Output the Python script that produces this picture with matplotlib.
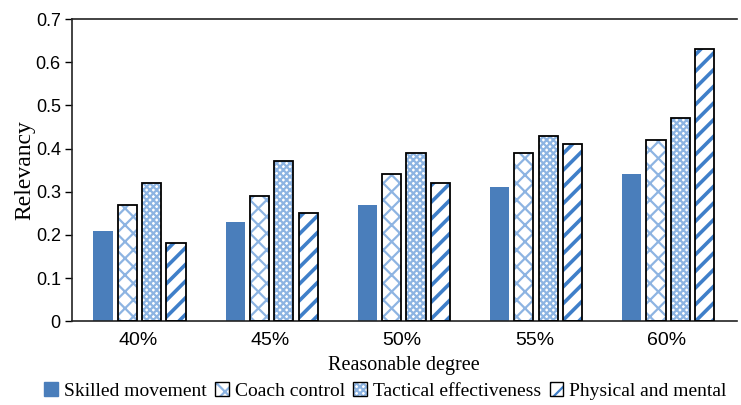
import matplotlib
matplotlib.use("Agg")
import matplotlib.pyplot as plt
import numpy as np
from matplotlib.patches import Patch

plt.rcParams['font.family'] = ['Liberation Serif', 'DejaVu Serif']
plt.rcParams['hatch.linewidth'] = 1.6

categories = ["40%", "45%", "50%", "55%", "60%"]
series_names = ["Skilled movement", "Coach control", "Tactical effectiveness", "Physical and mental"]
skilled = [0.21, 0.23, 0.27, 0.31, 0.34]
coach = [0.27, 0.29, 0.34, 0.39, 0.42]
tactical = [0.32, 0.37, 0.39, 0.43, 0.47]
physical = [0.18, 0.25, 0.32, 0.41, 0.63]
yticks = [0, 0.1, 0.2, 0.3, 0.4, 0.5, 0.6, 0.7]

blue = "#4a7ebb"
light = "#8db4e2"
styles = [
    dict(fill=blue, hatch=None, hcol=blue, edge=None, hlw=None),
    dict(fill="white", hatch="xx", hcol=light, edge="black", hlw=1.6),
    dict(fill="white", hatch="xxxxx", hcol=light, edge="black", hlw=1.6),
    dict(fill="white", hatch="//", hcol="#3f7fc9", edge="black", hlw=2.6),
]


def apply_hatch_width(patches, lw):
    for p in patches:
        if hasattr(p, "set_hatch_linewidth"):
            p.set_hatch_linewidth(lw)


fig = plt.figure(figsize=(7.41, 4.05), dpi=100)
ax = fig.add_axes([0.097, 0.207, 0.897, 0.746])

x = np.arange(len(categories))
width = 0.145
step = 0.184
data = [skilled, coach, tactical, physical]
for i, (vals, st) in enumerate(zip(data, styles)):
    pos = x + (i - 1.5) * step + 0.012
    if st["hatch"] is None:
        ax.bar(pos, vals, width, color=st["fill"], linewidth=0, zorder=2)
    else:
        bars = ax.bar(pos, vals, width, color=st["fill"], edgecolor=st["hcol"],
                      hatch=st["hatch"], linewidth=0, zorder=2)
        apply_hatch_width(bars, st["hlw"])
        ax.bar(pos, vals, width, fill=False, edgecolor=st["edge"],
               linewidth=1.3, zorder=3)

ax.set_xlim(-0.5, len(categories) - 0.47)
ax.set_ylim(0, 0.7)
ax.set_yticks(yticks)
ax.set_yticklabels([f"{v:g}" for v in yticks], fontsize=13, family='Liberation Sans')
ax.set_xticks(x)
ax.set_xticklabels(categories, fontsize=14, family='Liberation Sans')
ax.tick_params(axis='x', length=0, pad=8)
ax.tick_params(axis='y', length=5, width=1, direction='out', pad=3)
ax.spines['right'].set_visible(False)
for s in ['left', 'bottom', 'top']:
    ax.spines[s].set_linewidth(1.2)
    ax.spines[s].set_color('#222222')

ax.set_ylabel("Relevancy", fontsize=17, labelpad=0)
ax.set_xlabel("Reasonable degree", fontsize=14.5, labelpad=5)

handles = []
for st in styles:
    if st["hatch"] is None:
        handles.append(Patch(facecolor=st["fill"], edgecolor=st["fill"]))
    else:
        hp = Patch(facecolor=st["fill"], edgecolor=st["hcol"],
                   hatch=st["hatch"], linewidth=0)
        apply_hatch_width([hp], st["hlw"])
        handles.append((hp, Patch(fill=False, edgecolor="black", linewidth=1)))
fig.legend(handles, series_names, loc='lower center', bbox_to_anchor=(0.52, -0.03),
           ncol=4, frameon=False, fontsize=14, handlelength=0.7, handleheight=0.7,
           handletextpad=0.3, columnspacing=0.45)

fig.savefig("out.png", dpi=100)
